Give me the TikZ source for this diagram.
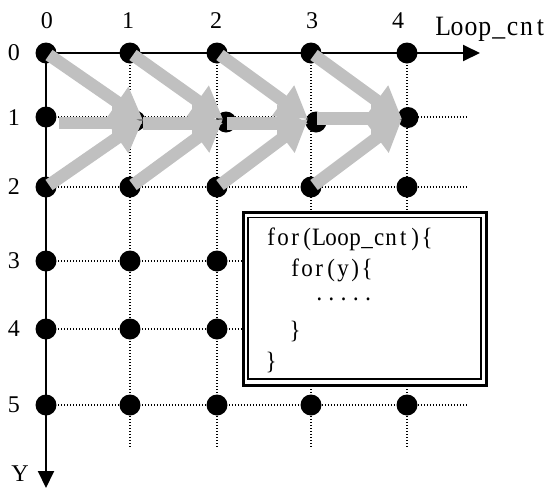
\documentclass[tikz,border=0pt]{standalone}
\usepackage{fontspec}
\setmainfont{Liberation Serif}
\usepackage{graphicx}
\usetikzlibrary{arrows.meta}

\definecolor{flowgray}{RGB}{192,192,192}

% typeset a string in fixed-width cells (half-width look)
\newlength\cellw
\def\cellrun#1{\ifx#1\relax\else\makebox[\cellw]{\scalebox{0.92}[1]{#1}}\expandafter\cellrun\fi}
\newcommand\celltext[2]{\setlength\cellw{#1}\cellrun#2\relax}
\newcommand\smalldot{\raisebox{1.5pt}{\scalebox{0.5}{\textbullet}}}

\tikzset{
  axis/.style={line width=2pt, -{Triangle[length=17pt,width=16pt]}},
  gridline/.style={line width=1.3pt, dash pattern=on 1.3pt off 1.7pt},
  dot/.style={circle, fill=black, minimum size=21pt, inner sep=0pt},
  flow/.style={draw=flowgray, line width=12.5pt, -{Triangle[length=31pt,width=36pt]}},
  lbl/.style={inner sep=0pt, font=\fontsize{24}{24}\selectfont},
  code/.style={inner sep=0pt, anchor=base west, font=\fontsize{25}{25}\selectfont},
}

\begin{document}
\begin{tikzpicture}[x=1pt,y=-1pt]
\useasboundingbox (0,0) rectangle (550,488);

% ---- lattice positions ----
\foreach \c/\x in {0/46,1/130,2/217,3/311,4/407}{
  \coordinate (p\c-0) at (\x,53);
  \coordinate (p\c-2) at (\x,187);
  \coordinate (p\c-3) at (\x,261);
  \coordinate (p\c-4) at (\x,329);
  \coordinate (p\c-5) at (\x,405);
}
\coordinate (p0-1) at (46,117);
\coordinate (p1-1) at (135,121);
\coordinate (p2-1) at (226,122);
\coordinate (p3-1) at (316,122);
\coordinate (p4-1) at (408,117.5);
\coordinate (gbottom) at (0,448);
\coordinate (gright) at (467,0);

% ---- dotted grid ----
\foreach \c in {1,2,3,4}{
  \draw[gridline] (p\c-0) -- (p\c-0 |- gbottom);
}
\foreach \r in {1,2,3,4,5}{
  \draw[gridline] (p0-\r) -- (p0-\r -| gright);
}

% ---- axes ----
\coordinate (xend) at (480,53);
\coordinate (yend) at (46,488);
\draw[axis] (p0-0) -- (xend);
\draw[axis] (p0-0) -- (yend);

% ---- lattice points ----
\foreach \c in {0,1,2,3,4}{
  \foreach \r in {0,1,2,5}{
    \node[dot] (d\c-\r) at (p\c-\r) {};
  }
}
\foreach \c in {0,1,2}{
  \foreach \r in {3,4}{
    \node[dot] (d\c-\r) at (p\c-\r) {};
  }
}

% ---- gray flow arrows ----
\coordinate (t0) at (143,120);
\coordinate (t1) at (223,119);
\coordinate (t2) at (308,119);
\coordinate (t3) at (402,119);
\coordinate (h0) at (59,123);
\coordinate (h1) at (143,123.5);
\coordinate (h2) at (227,123.5);
\coordinate (h3) at (317,118.5);
\foreach \i in {0,1,2,3}{
  \draw[flow] (h\i) -- (t\i |- h\i);
}
\foreach \i in {0,1,2,3}{
  \draw[flow] ([shift={(3,2)}]d\i-0.center) -- (t\i);
  \draw[flow] ([shift={(3,-2)}]d\i-2.center) -- (t\i);
}

% ---- code box ----
\draw[line width=3pt, fill=white] (243.3,212.5) rectangle (486.5,385);
\draw[line width=1.8pt] (248.3,217.5) rectangle (481,379);
\node[code] (c1) at (265,245) {\celltext{12pt}{for(Loop\_cnt)\{}};
\node[code] (c2) at (289,276) {\celltext{12pt}{for(y)\{}};
\node[code] (c3) at (313,305) {\celltext{12.2pt}{\smalldot\smalldot\smalldot\smalldot\smalldot}};
\node[code] (c4) at (289,338) {\celltext{12pt}{\}}};
\node[code] (c5) at (265,369) {\celltext{12pt}{\}}};

% ---- labels ----
\foreach \c/\x in {0/47,1/128,2/216,3/312,4/398}{
  \node[lbl] (cl\c) at (\x,20.5) {\c};
}
\foreach \r/\y in {0/53,1/118,2/187,3/261,4/329,5/405}{
  \node[lbl] (rl\r) at (14,\y) {\r};
}
\node[inner sep=0pt, anchor=base west, font=\fontsize{28}{28}\selectfont] (xlab) at (436,35) {\celltext{13.9pt}{Loop\_cnt}};
\node[lbl] (ylab) at (20,474) {Y};
\end{tikzpicture}
\end{document}
